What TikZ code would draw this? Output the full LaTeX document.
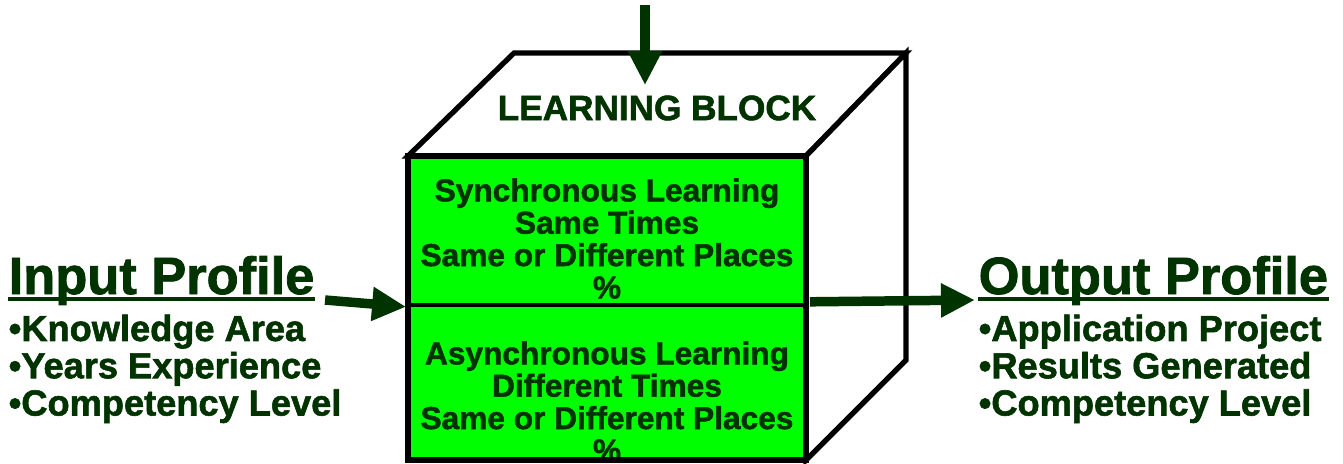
\documentclass[tikz,border=0pt]{standalone}
\usepackage{fontspec}
\setmainfont{Liberation Sans}[BoldFeatures={FakeBold=1.6}]
\usepackage{xcolor}
\usetikzlibrary{arrows.meta, positioning, calc}
\definecolor{dkgreen}{HTML}{003300}
\definecolor{litegreen}{HTML}{00FF00}

\tikzset{
  face/.style={draw=black, line width=1.5pt, line join=miter},
  half/.style={draw=black, line width=1pt, fill=litegreen, minimum width=3.98cm, inner sep=0pt},
  halftext/.style={align=center, inner sep=0pt, text=dkgreen,
               font=\bfseries\fontsize{9}{9.2}\selectfont},
  title/.style={anchor=base west, text=dkgreen, inner sep=0pt,
               font=\bfseries\fontsize{14.9}{16}\selectfont},
  items/.style={anchor=north west, align=left, text=dkgreen, inner sep=0pt,
               font=\bfseries\fontsize{10.3}{10.6}\selectfont},
  fat/.style={draw=dkgreen, line width=2.7pt, -{Triangle[width=3.2mm, length=3.4mm]}},
  uline/.style={draw=dkgreen, line width=1.1pt},
}

\begin{document}
\begin{tikzpicture}[x=0.01cm, y=-0.01cm]
\useasboundingbox (0,0) rectangle (1343,463);

% the block
\coordinate (ftl) at (408,156);
\coordinate (ftr) at (806,156);
\coordinate (btl) at (514,53);
\coordinate (btr) at (906,53);
\coordinate (bbr) at (906,360);
\coordinate (fbr) at (806,460);

\draw[face, fill=white] (ftl) -- (btl) -- (btr) -- (ftr) -- cycle;
\draw[face, fill=white] (ftr) -- (btr) -- (bbr) -- (fbr) -- cycle;
\node[text=dkgreen, font=\bfseries\fontsize{10}{10}\selectfont] (lb) at (657,108) {LEARNING BLOCK};

\node[half, minimum height=1.49cm] (sync) at (607,230.5) {};
\node[half, minimum height=1.55cm] (async) at (607,382.5) {};
\node[halftext] (synctxt) at ($(sync.center)+(0,8)$)
  {Synchronous Learning\\ Same Times\\ Same or Different Places\\ \%};
\node[halftext] (asynctxt) at ($(async.center)+(0,19)$)
  {Asynchronous Learning\\ Different Times\\ Same or Different Places\\ \%};
\draw[face] (ftl) rectangle (fbr);

% profiles
\node[title] (inp) at (8,294) {Input Profile};
\draw[uline] ($(inp.base west)+(0,5)$) -- ($(inp.base east)+(0,5)$);
\node[items] (inlist) at (8,314) {\textbullet Knowledge Area\\ \textbullet Years Experience\\ \textbullet Competency Level};
\node[title] (outp) at (978,294) {Output Profile};
\draw[uline] ($(outp.base west)+(0,5)$) -- ($(outp.base east)+(0,5)$);
\node[items] (outlist) at (978,314) {\textbullet Application Project\\ \textbullet Results Generated\\ \textbullet Competency Level};

% arrows
\coordinate (topin) at (645,5);
\draw[fat] (topin) -- ($(lb.north -| topin)+(0,2)$);
\draw[fat] (inp.base east) ++(10,6) coordinate (lstart) -- (sync.south west);
\draw[fat] (sync.south east) ++(2,-5) coordinate (rstart) -- ($(outp.base west)+(-3,6)$);
\end{tikzpicture}
\end{document}
